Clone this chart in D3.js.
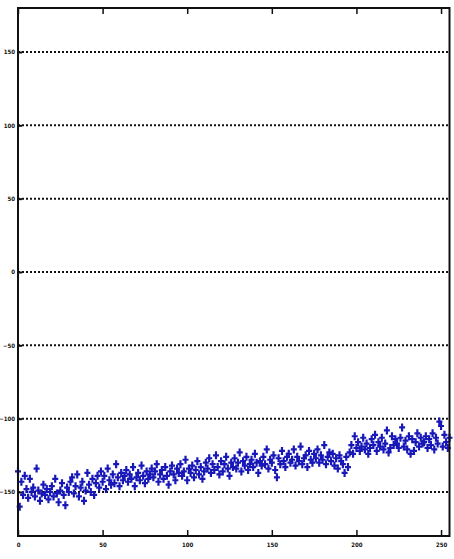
<!DOCTYPE html>
<html>
<head>
<meta charset="utf-8">
<script src="https://cdn.jsdelivr.net/npm/d3@7"></script>
<style>
  body { margin: 0; background: #fff; }
  .tick text { font-family: "DejaVu Sans Condensed", "DejaVu Sans", sans-serif; font-size: 6px; font-weight: bold; fill: #111; }
</style>
</head>
<body>
<script>
// data: one reading per sample index 0..255
var values = [
  -136, -160, -143, -152, -139, -148, -154, -141, -150, -147, -153, -134, -149, -156, -151, -145,
  -152, -148, -155, -150, -146, -153, -141, -151, -157, -149, -144, -152, -159, -147, -150, -143,
  -140, -151, -146, -138, -153, -147, -143, -156, -149, -137, -145, -150, -141, -152, -144, -139,
  -147, -136, -143, -139, -148, -134, -142, -145, -138, -144, -131, -140, -146, -137, -142, -139,
  -135, -143, -138, -141, -133, -146, -140, -137, -142, -132, -139, -144, -136, -141, -138, -134,
  -140, -136, -131, -143, -138, -135, -141, -133, -139, -145, -136, -132, -138, -142, -134, -137,
  -131, -139, -136, -128, -142, -134, -137, -132, -140, -135, -129, -138, -133, -141, -136, -130,
  -134, -127, -137, -131, -135, -125, -133, -138, -129, -136, -131, -126, -134, -139, -130, -133,
  -127, -134, -130, -123, -136, -129, -132, -126, -135, -131, -128, -133, -124, -130, -137, -129,
  -132, -126, -131, -121, -134, -128, -130, -125, -135, -140, -127, -131, -122, -129, -133, -126,
  -124, -130, -128, -121, -132, -126, -129, -119, -131, -127, -125, -133, -122, -128, -130, -124,
  -127, -121, -130, -125, -128, -118, -131, -126, -123, -129, -124, -132, -127, -134, -125, -129,
  -131, -137, -126, -133, -123, -118, -124, -112, -120, -116, -122, -119, -113, -121, -117, -124,
  -120, -114, -118, -111, -122, -116, -119, -113, -121, -117, -108, -123, -120, -112, -118, -114,
  -117, -120, -113, -106, -119, -115, -121, -112, -124, -114, -122, -116, -110, -119, -113, -117,
  -116, -112, -120, -114, -118, -110, -121, -113, -117, -102, -105, -119, -111, -116, -120, -113
];
var xTicks = [0, 50, 100, 150, 200, 250];
var yTicks = [-150, -100, -50, 0, 50, 100, 150];

var W = 454, H = 559;
var padL = 18, padR = 449.5, padT = 8, padB = 536;

var svg = d3.select("body").append("svg")
  .attr("width", W)
  .attr("height", H);

var x = d3.scaleLinear().domain([0, 255]).range([padL, padR]);
var y = d3.scaleLinear().domain([-180, 180]).range([padB, padT]);

// dotted grid lines
svg.append("g")
  .selectAll("line")
  .data(yTicks)
  .enter().append("line")
    .attr("x1", padL)
    .attr("x2", padR)
    .attr("y1", function(d) { return y(d); })
    .attr("y2", function(d) { return y(d); })
    .attr("stroke", "#111")
    .attr("stroke-width", 2)
    .attr("stroke-dasharray", "2,2");

// points as '+' markers
svg.append("g")
  .selectAll("path")
  .data(values)
  .enter().append("path")
    .attr("d", function(d, i) {
      var cx = x(i), cy = y(d);
      return "M" + (cx - 3) + "," + cy + "H" + (cx + 3) + "M" + cx + "," + (cy - 4) + "V" + (cy + 4);
    })
    .attr("stroke", "#1818b8")
    .attr("stroke-width", 2.2)
    .attr("fill", "none");

// axes: ticks point inward
var xAxis = d3.axisBottom(x).tickValues(xTicks).tickSize(-6).tickPadding(7).tickFormat(d3.format("d"));
var yAxis = d3.axisLeft(y).tickValues(yTicks).tickSize(-4).tickPadding(3).tickFormat(d3.format("d"));

svg.append("g")
  .attr("transform", "translate(0," + padB + ")")
  .call(xAxis)
  .call(function(g) { g.select(".domain").remove(); })
  .call(function(g) { g.selectAll(".tick line").attr("stroke", "#111").attr("stroke-width", 1.5); });

svg.append("g")
  .attr("transform", "translate(0," + padT + ")")
  .call(d3.axisTop(x).tickValues(xTicks).tickSize(-6).tickFormat(""))
  .call(function(g) { g.select(".domain").remove(); })
  .call(function(g) { g.selectAll(".tick line").attr("stroke", "#111").attr("stroke-width", 1.5); });

svg.append("g")
  .attr("transform", "translate(" + padL + ",0)")
  .call(yAxis)
  .call(function(g) { g.select(".domain").remove(); })
  .call(function(g) { g.selectAll(".tick line").attr("stroke", "#111").attr("stroke-width", 2); });

// frame
svg.append("rect")
  .attr("x", padL)
  .attr("y", padT)
  .attr("width", padR - padL)
  .attr("height", padB - padT)
  .attr("fill", "none")
  .attr("stroke", "#111")
  .attr("stroke-width", 2);
</script>
</body>
</html>
